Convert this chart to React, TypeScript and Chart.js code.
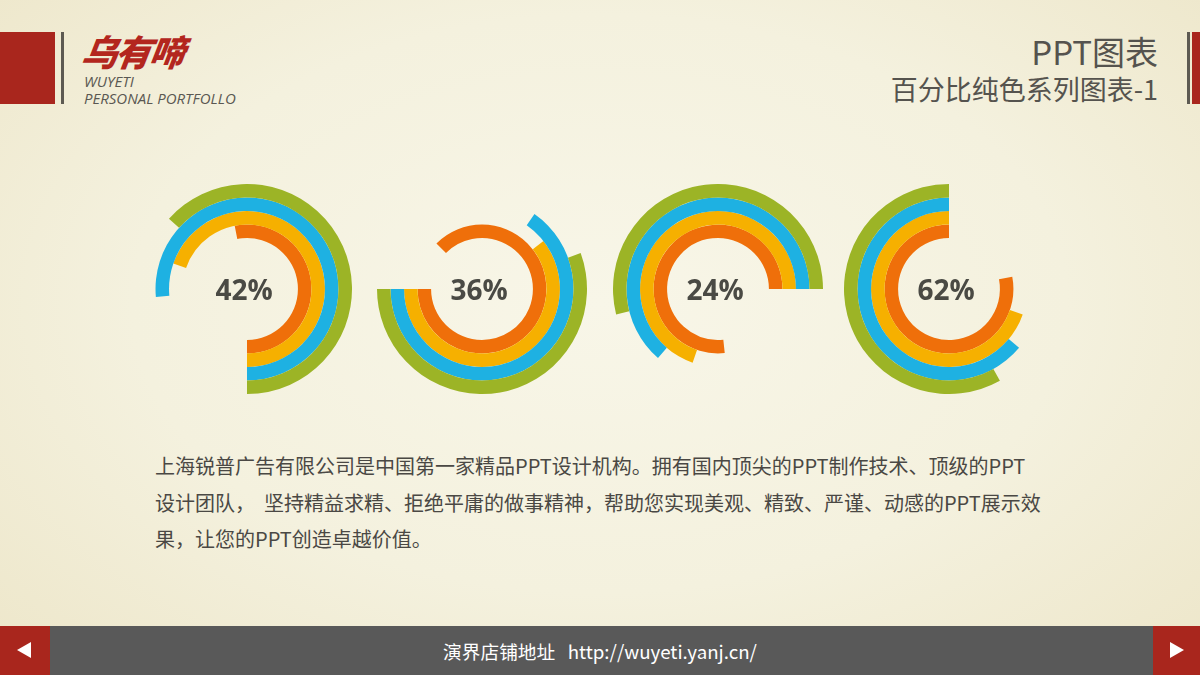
import React, { useEffect, useRef } from "react";
import { Chart, registerables } from "chart.js";

Chart.register(...registerables);

// ---- data ----
const percentLabels = ["42%", "36%", "24%", "62%"];
const ringNames = ["outer", "second", "third", "inner"];
const ringColors = ["#9cb426", "#1eb1e2", "#f6b000", "#ef6f0a"];
// angle (deg, clockwise from 12 o'clock) where all rings of a chart end
const ringEndAngles = [180, 270, 450, 360];
// sweep of each ring (outer -> inner) for each chart, in degrees
const sweepsChart1 = [228, 275, 251, 191];
const sweepsChart2 = [200, 235, 218, 315];
const sweepsChart3 = [194, 229, 251, 276];
const sweepsChart4 = [209, 230, 251, 281];
const allSweeps = [sweepsChart1, sweepsChart2, sweepsChart3, sweepsChart4];

const centersX = [247, 482, 718, 949];
const centerY = 289;
const R = 105;

const paragraphLines = [
  "上海锐普广告有限公司是中国第一家精品PPT设计机构。拥有国内顶尖的PPT制作技术、顶级的PPT",
  "设计团队，  坚持精益求精、拒绝平庸的做事精神，帮助您实现美观、精致、严谨、动感的PPT展示效",
  "果，让您的PPT创造卓越价值。",
];

const CJK = '"Noto Sans CJK SC", "Noto Sans", sans-serif';

function RingChart({ idx }: { idx: number }) {
  const ref = useRef<HTMLCanvasElement | null>(null);
  useEffect(() => {
    if (!ref.current) return;
    const sweeps = allSweeps[idx];
    const end = ringEndAngles[idx];
    const chart = new Chart(ref.current, {
      type: "doughnut",
      data: {
        labels: ["value", "rest"],
        datasets: sweeps.map((s, i) => ({
          label: ringNames[i],
          data: [s, 360 - s],
          backgroundColor: [ringColors[i], "rgba(0,0,0,0)"],
          borderWidth: 0,
          rotation: end - s,
          hoverOffset: 0,
          offset: 0,
        })) as any,
      },
      options: {
        animation: false,
        responsive: false,
        maintainAspectRatio: false,
        cutout: "48.5%",
        layout: { padding: 0 },
        plugins: { legend: { display: false }, tooltip: { enabled: false } },
        events: [],
      } as any,
    });
    return () => chart.destroy();
  }, [idx]);
  return (
    <div
      style={{
        position: "absolute",
        left: centersX[idx] - R,
        top: centerY - R,
        width: 2 * R,
        height: 2 * R,
      }}
    >
      <canvas ref={ref} width={2 * R} height={2 * R} style={{ width: 2 * R, height: 2 * R }} />
      <div
        style={{
          position: "absolute",
          left: 0,
          top: 0,
          width: 2 * R,
          height: 2 * R,
          display: "flex",
          alignItems: "center",
          justifyContent: "center",
          fontFamily: '"Open Sans", "Noto Sans", sans-serif',
          fontWeight: 700,
          fontSize: 28,
          color: "#4a4a44",
          paddingRight: 6,
          boxSizing: "border-box",
        }}
      >
        {percentLabels[idx]}
      </div>
    </div>
  );
}

export default function App() {
  useEffect(() => {
    document.body.style.margin = "0";
  }, []);
  return (
    <div
      style={{
        position: "relative",
        width: 1200,
        height: 675,
        overflow: "hidden",
        background:
          "radial-gradient(ellipse at 50% 45%, #f8f6e8 0%, #f4f1de 55%, #ede6c9 100%)",
        fontFamily: CJK,
      }}
    >
      {/* header left */}
      <div style={{ position: "absolute", left: 0, top: 32, width: 55, height: 72, background: "#a9261d" }} />
      <div style={{ position: "absolute", left: 61, top: 32, width: 3, height: 72, background: "#5d5a52" }} />
      <div
        style={{
          position: "absolute",
          left: 82,
          top: 27,
          fontSize: 36,
          fontWeight: 900,
          fontStyle: "italic",
          color: "#b3261e",
          letterSpacing: -2,
          lineHeight: "46px",
          transform: "skewX(-8deg)",
        }}
      >
        乌有啼
      </div>
      <div
        style={{
          position: "absolute",
          left: 84,
          top: 73,
          fontSize: 15,
          fontStyle: "italic",
          color: "#5a5852",
          fontFamily: '"Open Sans", sans-serif',
          lineHeight: "17px",
        }}
      >
        WUYETI
        <br />
        PERSONAL PORTFOLLO
      </div>

      {/* header right */}
      <div
        style={{
          position: "absolute",
          right: 42,
          top: 31,
          fontSize: 33,
          color: "#55534e",
          lineHeight: "40px",
          textAlign: "right",
        }}
      >
        PPT图表
      </div>
      <div
        style={{
          position: "absolute",
          right: 42,
          top: 71,
          fontSize: 27,
          color: "#55534e",
          lineHeight: "36px",
          textAlign: "right",
          whiteSpace: "nowrap",
        }}
      >
        百分比纯色系列图表-1
      </div>
      <div style={{ position: "absolute", left: 1187, top: 32, width: 3, height: 72, background: "#5d5a52" }} />
      <div style={{ position: "absolute", left: 1192, top: 32, width: 8, height: 72, background: "#a9261d" }} />

      {/* charts */}
      {[0, 1, 2, 3].map((i) => (
        <RingChart key={i} idx={i} />
      ))}

      {/* paragraph */}
      <div
        style={{
          position: "absolute",
          left: 155,
          top: 448,
          fontSize: 20,
          lineHeight: "36.5px",
          color: "#4a4844",
          whiteSpace: "pre",
        }}
      >
        {paragraphLines.join("\n")}
      </div>

      {/* footer */}
      <div style={{ position: "absolute", left: 0, top: 626, width: 1200, height: 49, background: "#595959" }} />
      <div style={{ position: "absolute", left: 0, top: 626, width: 50, height: 49, background: "#a9261d" }} />
      <div style={{ position: "absolute", left: 1153, top: 626, width: 47, height: 49, background: "#a9261d" }} />
      <div
        style={{
          position: "absolute",
          left: 17,
          top: 642,
          width: 0,
          height: 0,
          borderTop: "8px solid transparent",
          borderBottom: "8px solid transparent",
          borderRight: "14px solid #ffffff",
        }}
      />
      <div
        style={{
          position: "absolute",
          left: 1170,
          top: 642,
          width: 0,
          height: 0,
          borderTop: "8px solid transparent",
          borderBottom: "8px solid transparent",
          borderLeft: "14px solid #ffffff",
        }}
      />
      <div
        style={{
          position: "absolute",
          left: 0,
          top: 626,
          width: 1200,
          height: 49,
          display: "flex",
          alignItems: "center",
          justifyContent: "center",
          color: "#ffffff",
          fontSize: 18.7,
          whiteSpace: "pre",
        }}
      >
        {"演界店铺地址   http://wuyeti.yanj.cn/"}
      </div>
    </div>
  );
}
